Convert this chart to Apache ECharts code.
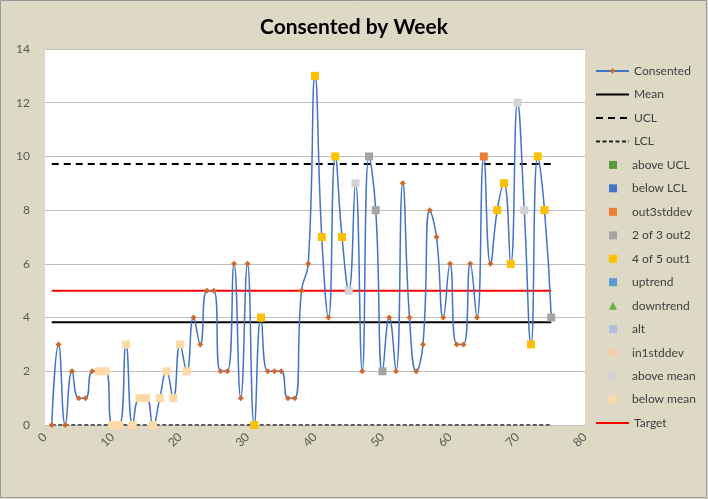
<!DOCTYPE html>
<html><head><meta charset="utf-8">
<script src="https://cdn.jsdelivr.net/npm/echarts@6/dist/echarts.min.js"></script>
<style>html,body{margin:0;padding:0;background:#DDD9C4;} #c{width:708px;height:499px;}</style>
</head><body><div id="c"></div>
<script>
// ---- data ----
const weeks = [1,2,3,4,5,6,7,8,9,10,11,12,13,14,15,16,17,18,19,20,21,22,23,24,25,26,27,28,29,30,31,32,33,34,35,36,37,38,39,40,41,42,43,44,45,46,47,48,49,50,51,52,53,54,55,56,57,58,59,60,61,62,63,64,65,66,67,68,69,70,71,72,73,74,75];
const consented = [0,3,0,2,1,1,2,2,2,0,0,3,0,1,1,0,1,2,1,3,2,4,3,5,5,2,2,6,1,6,0,4,2,2,2,1,1,5,6,13,7,4,10,7,5,9,2,10,8,2,4,2,9,4,2,3,8,7,4,6,3,3,6,4,10,6,8,9,6,12,8,3,10,8,4];
const meanValue = 3.83;
const uclValue = 9.72;
const lclValue = 0;
const targetValue = 5;
const aboveUclWeeks = [];
const belowLclWeeks = [];
const out3stddevWeeks = [65];
const twoOf3Weeks = [48,49,50,75];
const fourOf5Weeks = [31,32,40,41,43,44,67,68,69,72,73,74];
const uptrendWeeks = [];
const downtrendWeeks = [];
const altWeeks = [];
const in1stddevWeeks = [];
const aboveMeanWeeks = [45,46,70,71];
const belowMeanWeeks = [8,9,10,11,12,13,14,15,16,17,18,19,20,21];
const xAxisMin = 0, xAxisMax = 80, xAxisStep = 10;
const yAxisMin = 0, yAxisMax = 14, yAxisStep = 2;
const titleText = 'Consented by Week';

// ---- build ----
const FONT = 'Lato';
const pts = w => w.map(k => [k, consented[weeks.indexOf(k)]]);
const flat = v => [[weeks[0], v], [weeks[weeks.length-1], v]];

const series = [
  {name:'Consented', type:'line', data: weeks.map((w,i)=>[w, consented[i]]), smooth:0.5,
   symbol:'diamond', symbolSize:6, showSymbol:true,
   lineStyle:{color:'#4472C4', width:1.5}, itemStyle:{color:'#D0692A'}, z:3},
  {name:'Mean', type:'line', data: flat(meanValue), symbol:'none', lineStyle:{color:'#000', width:2}, z:2},
  {name:'UCL', type:'line', data: flat(uclValue), symbol:'none', lineStyle:{color:'#000', width:2, type:[7,5]}, z:2},
  {name:'LCL', type:'line', data: flat(lclValue), symbol:'none', lineStyle:{color:'#222', width:1.5, type:[4,2.5]}, z:2},
];
const markerDefs = [
  ['above UCL', aboveUclWeeks, '#5B9A3C', 'rect'],
  ['below LCL', belowLclWeeks, '#4472C4', 'rect'],
  ['out3stddev', out3stddevWeeks, '#ED7D31', 'rect'],
  ['2 of 3 out2', twoOf3Weeks, '#A5A5A5', 'rect'],
  ['4 of 5 out1', fourOf5Weeks, '#FFC000', 'rect'],
  ['uptrend', uptrendWeeks, '#5B9BD5', 'rect'],
  ['downtrend', downtrendWeeks, '#70AD47', 'triangle'],
  ['alt', altWeeks, '#B0C1E4', 'rect'],
  ['in1stddev', in1stddevWeeks, '#F8CBAD', 'rect'],
  ['above mean', aboveMeanWeeks, '#D3D3D3', 'rect'],
  ['below mean', belowMeanWeeks, '#FFD9A6', 'rect'],
];
markerDefs.forEach(([n, w, c, s]) => series.push({
  name:n, type:'scatter', data: pts(w), symbol:s, symbolSize:8, itemStyle:{color:c, opacity:1}, z:4
}));
series.push({name:'Target', type:'line', data: flat(targetValue), symbol:'none', lineStyle:{color:'#FF0000', width:2}, z:2});

const plainLines = ['Mean','UCL','LCL','Target'];
const legendOrder = ['Consented','Mean','UCL','LCL'].concat(markerDefs.map(d=>d[0])).concat(['Target']);
const legends = legendOrder.map((n, i) => {
  const cy = 71 + i * 23.47;
  const isLine = n === 'Consented' || plainLines.includes(n);
  const item = plainLines.includes(n) ? {name:n, itemStyle:{opacity:0}} : {name:n};
  return {
    data:[item], orient:'vertical', selectedMode:false, padding:0,
    left: isLine ? 595 : 609, top: cy - 7,
    itemWidth: isLine ? 33 : 8, itemHeight: isLine ? 7 : 8, itemGap:0,
    textStyle: isLine ? {fontFamily:FONT, fontSize:12, color:'#404040', lineHeight:14}
                      : {fontFamily:FONT, fontSize:12, color:'#404040', lineHeight:14, padding:[0,0,0,10]}
  };
});

const chart = echarts.init(document.getElementById('c'), null, {renderer:'canvas'});
chart.setOption({
  animation:false,
  backgroundColor:'#DDD9C4',
  title:{text:titleText, left:'center', top:12, textStyle:{fontFamily:FONT, fontWeight:'bold', fontSize:21, color:'#000'}},
  grid:{left:45, right:123, top:49, bottom:74, show:true, backgroundColor:'#FFFFFF', borderWidth:0},
  xAxis:{type:'value', min:xAxisMin, max:xAxisMax, interval:xAxisStep,
    axisLine:{show:false}, axisTick:{show:false}, splitLine:{show:false},
    axisLabel:{rotate:45, margin:10, color:'#595959', fontFamily:FONT, fontSize:12}},
  yAxis:{type:'value', min:yAxisMin, max:yAxisMax, interval:yAxisStep,
    axisLine:{show:false}, axisTick:{show:false},
    splitLine:{lineStyle:{color:'#BFBFBF', width:1}},
    axisLabel:{margin:15, color:'#595959', fontFamily:FONT, fontSize:12}},
  legend: legends,
  series: series,
  graphic:[{type:'rect', shape:{x:0.5, y:0.5, width:706, height:497}, style:{fill:null, stroke:'#9A9A9A', lineWidth:1}, silent:true}]
});
</script></body></html>
